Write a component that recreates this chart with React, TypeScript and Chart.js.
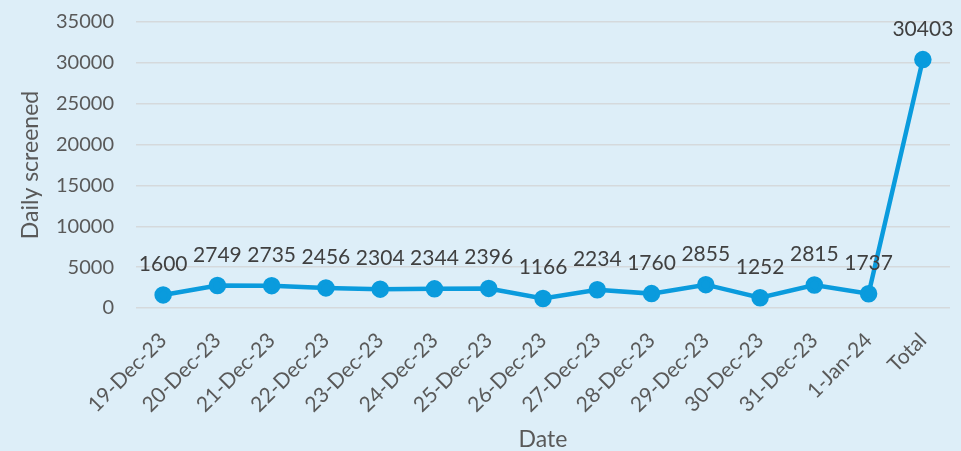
import React, { useEffect, useRef } from "react";
import { Chart, registerables } from "chart.js";

Chart.register(...registerables);

const categories = [
  "19-Dec-23", "20-Dec-23", "21-Dec-23", "22-Dec-23", "23-Dec-23", "24-Dec-23",
  "25-Dec-23", "26-Dec-23", "27-Dec-23", "28-Dec-23", "29-Dec-23", "30-Dec-23",
  "31-Dec-23", "1-Jan-24", "Total",
];
const dailyScreened = [1600, 2749, 2735, 2456, 2304, 2344, 2396, 1166, 2234, 1760, 2855, 1252, 2815, 1737, 30403];
const yTicks = [0, 5000, 10000, 15000, 20000, 25000, 30000, 35000];

const FONT = "Lato, 'Open Sans', sans-serif";

const labelPlugin = {
  id: "pointLabels",
  afterDatasetsDraw(chart: any) {
    const ctx = chart.ctx;
    const meta = chart.getDatasetMeta(0);
    ctx.save();
    ctx.font = `21px ${FONT}`;
    ctx.fillStyle = "#404040";
    ctx.textAlign = "center";
    ctx.textBaseline = "alphabetic";
    meta.data.forEach((pt: any, i: number) => {
      ctx.fillText(String(dailyScreened[i]), pt.x, pt.y - 24);
    });
    ctx.restore();
  },
};

export default function App() {
  const ref = useRef<HTMLCanvasElement>(null);
  useEffect(() => {
    document.body.style.margin = "0";
    const chart = new Chart(ref.current!, {
      type: "line",
      data: {
        labels: categories,
        datasets: [
          {
            data: dailyScreened,
            borderColor: "#0A9BDD",
            backgroundColor: "#0A9BDD",
            borderWidth: 4.5,
            pointRadius: 6.5,
            pointBackgroundColor: "#0A9BDD",
            pointBorderColor: "#0A9BDD",
            tension: 0,
          },
        ],
      },
      options: {
        animation: false,
        responsive: false,
        maintainAspectRatio: false,
        layout: { padding: { top: 22, right: 6, left: 0, bottom: 0 } },
        plugins: { legend: { display: false }, tooltip: { enabled: false } },
        scales: {
          x: {
            offset: true,
            grid: { display: false, drawTicks: false },
            border: { display: false },
            afterFit: (s: any) => {
              s.height = 143;
              s.paddingLeft = 0;
              s.paddingRight = 0;
            },
            ticks: {
              color: "#595959",
              font: { family: FONT, size: 21 },
              minRotation: 45,
              maxRotation: 45,
              autoSkip: false,
              padding: 20,
            },
            title: {
              display: true,
              text: "Date",
              color: "#595959",
              font: { family: FONT, size: 23, lineHeight: 1 },
              padding: { top: 0, bottom: 0 },
            },
          },
          y: {
            min: 0,
            max: 35000,
            afterBuildTicks: (axis: any) => {
              axis.ticks = yTicks.map((v) => ({ value: v }));
            },
            afterFit: (s: any) => {
              s.width = 136;
              s.paddingTop = 0;
              s.paddingBottom = 0;
            },
            grid: { color: "#D5D9DC", lineWidth: 1.5, drawTicks: false },
            border: { display: false },
            ticks: {
              color: "#595959",
              font: { family: FONT, size: 20 },
              padding: 22,
              callback: (v: any) => String(v),
            },
            title: {
              display: true,
              text: "Daily screened",
              color: "#595959",
              font: { family: FONT, size: 23, lineHeight: 1 },
              padding: { top: 19, bottom: 0 },
            },
          },
        },
      },
      plugins: [labelPlugin],
    });
    return () => chart.destroy();
  }, []);
  return (
    <div style={{ position: "absolute", left: 0, top: 0, width: 961, height: 451, background: "#DDEEF8" }}>
      <canvas ref={ref} width={961} height={451} style={{ display: "block" }} />
    </div>
  );
}
